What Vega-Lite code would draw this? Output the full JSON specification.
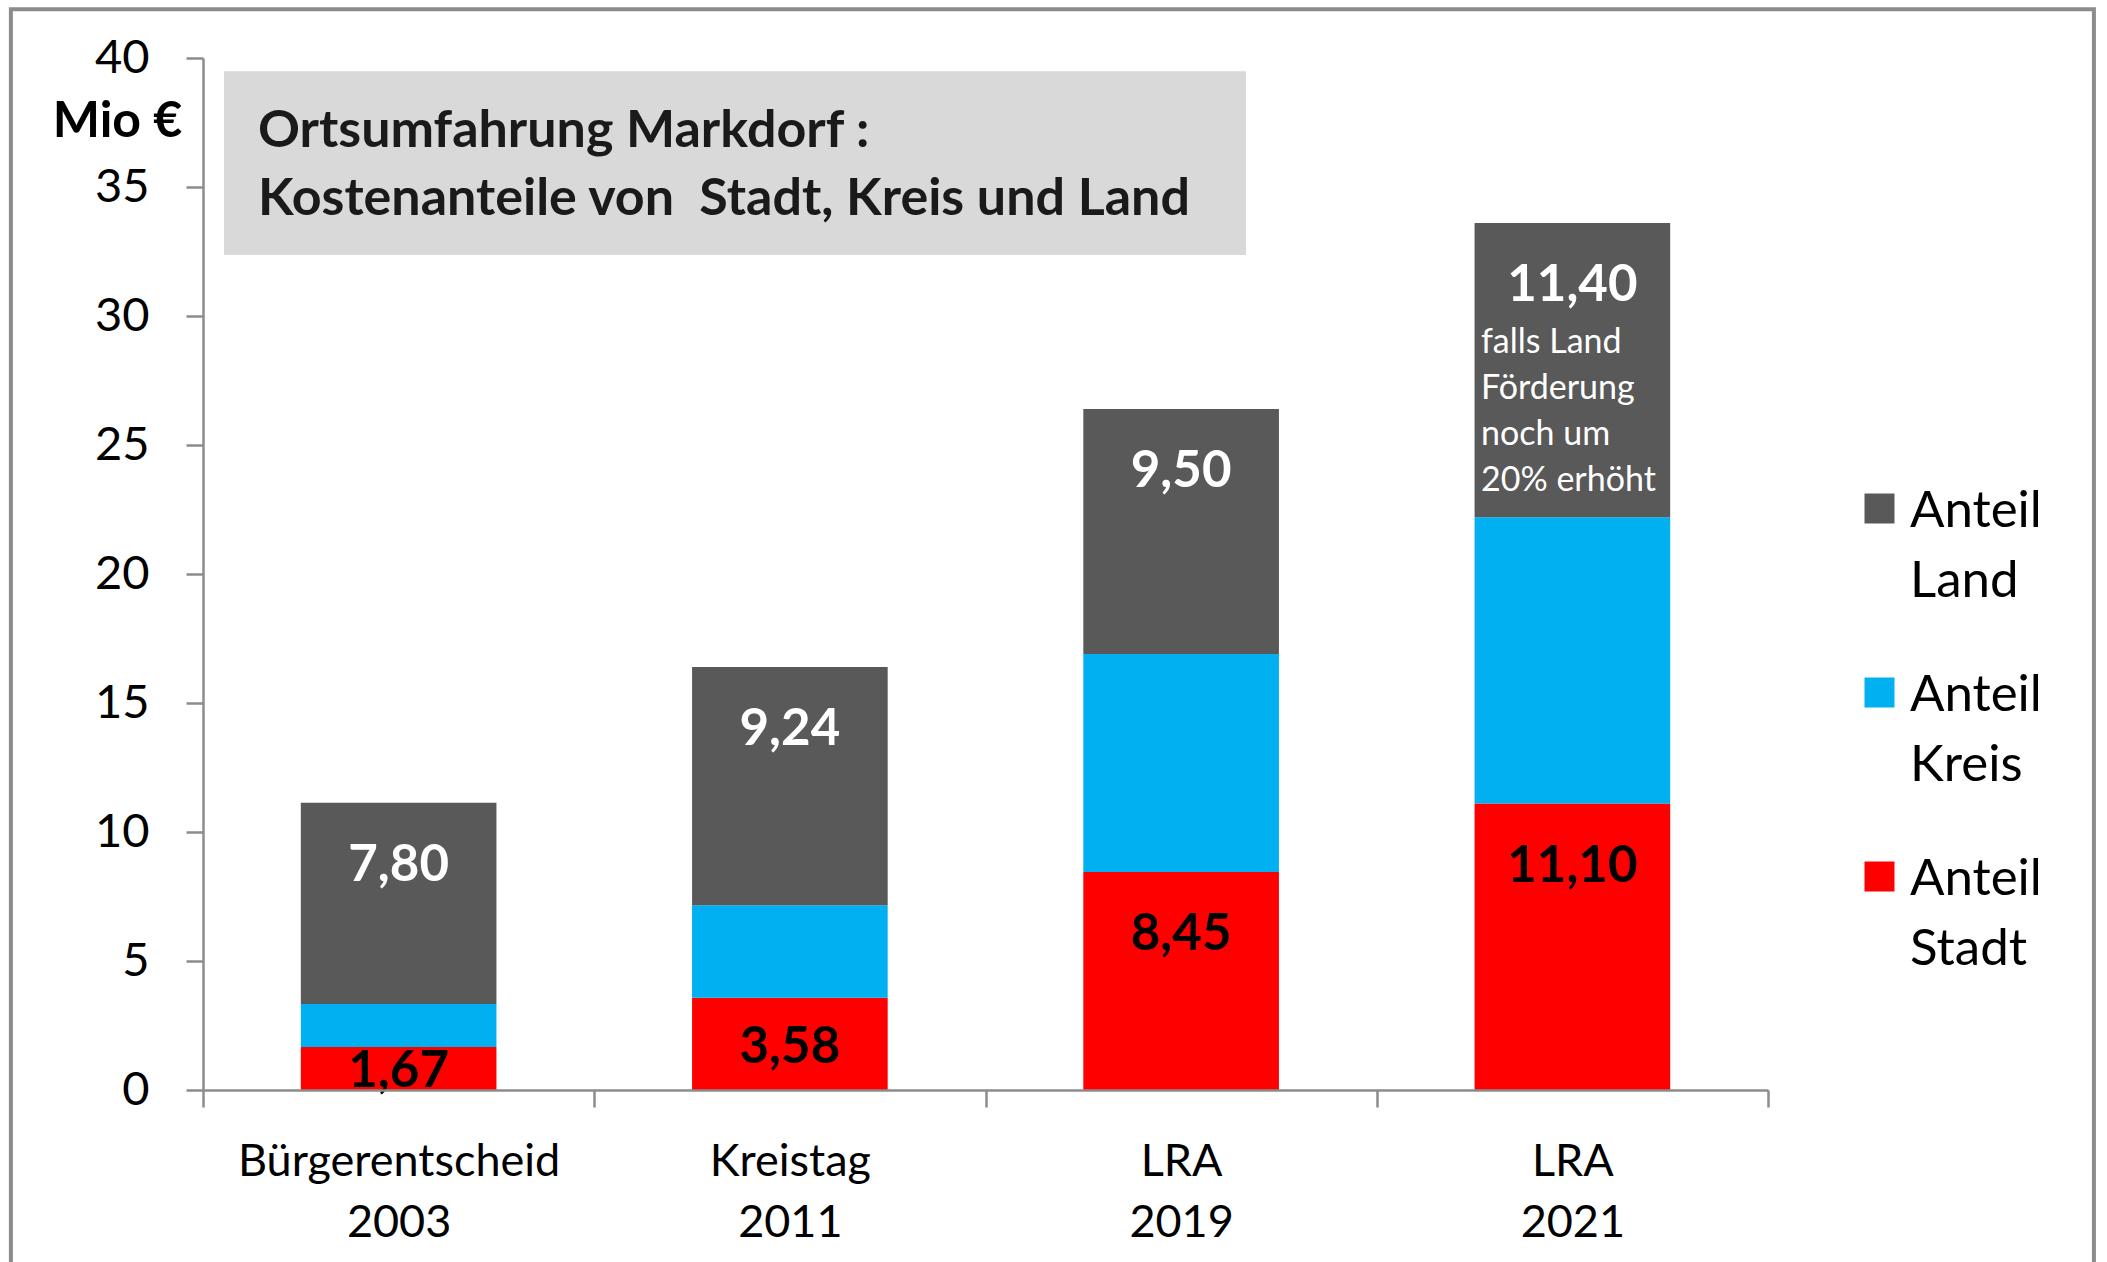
{
  "$schema": "https://vega.github.io/schema/vega-lite/v6.json",
  "width": 1565,
  "height": 1032,
  "autosize": {"type": "none"},
  "padding": {"left": 203, "top": 58, "right": 339, "bottom": 172},
  "background": "white",
  "config": {
    "view": {"stroke": null},
    "axisY": {"gridColor": "#8c8c8c", "gridWidth": 2.5, "domainColor": "#8c8c8c", "domainWidth": 2.5, "tickColor": "#8c8c8c", "tickWidth": 2.5, "tickSize": 17, "labelFont": "Lato", "labelFontSize": 47, "labelColor": "#000000", "labelPadding": 37, "titleAngle": 0, "titleX": -86, "titleY": 63, "titleAlign": "center", "titleBaseline": "middle", "titleFont": "Lato", "titleFontSize": 50, "titleFontWeight": "bold", "titleColor": "#000000"},
    "axisX": {"grid": false, "domainColor": "#8c8c8c", "domainWidth": 2.5, "tickColor": "#8c8c8c", "tickWidth": 2.5, "tickSize": 17, "tickBand": "extent", "labelFont": "Lato", "labelFontSize": 45, "labelColor": "#000000", "labelPadding": 32, "labelBaseline": "top", "labelLineHeight": 61, "labelAngle": 0, "labelLimit": 600, "labelExpr": "split(datum.label, ' ')"}
  },
  "layer": [
    {
      "data": {"values": [{}]},
      "mark": {"type": "rect", "fill": "transparent", "stroke": "#8c8c8c", "strokeWidth": 4},
      "encoding": {
        "x": {"datum": "Bürgerentscheid 2003", "type": "nominal", "bandPosition": -0.491, "title": null},
        "x2": {"datum": "LRA 2021", "bandPosition": 1.833},
        "y": {"datum": 41.89, "type": "quantitative", "title": "Mio €"},
        "y2": {"datum": -8}
      }
    },
    {
      "data": {"values": [{}]},
      "mark": {"type": "rect", "fill": "#d9d9d9"},
      "encoding": {
        "x": {"datum": "Bürgerentscheid 2003", "type": "nominal", "bandPosition": 0.0537, "title": null},
        "x2": {"datum": "LRA 2019", "bandPosition": 0.666},
        "y": {"datum": 39.49, "type": "quantitative", "title": "Mio €"},
        "y2": {"datum": 32.36}
      }
    },
    {
      "data": {"values": [{}]},
      "mark": {"type": "text", "align": "left", "baseline": "middle", "font": "Lato", "fontSize": 52, "fontWeight": "bold", "lineHeight": 68, "color": "#1a1a1a"},
      "encoding": {
        "x": {"datum": "Bürgerentscheid 2003", "type": "nominal", "bandPosition": 0.1406, "title": null},
        "y": {"datum": 37.16, "type": "quantitative", "title": "Mio €"},
        "text": {"value": ["Ortsumfahrung Markdorf :", "Kostenanteile von\u00a0 Stadt, Kreis und Land"]}
      }
    },
    {
      "data": {
        "values": [
          {"kat": "Bürgerentscheid 2003", "serie": "Anteil Stadt", "wert": 1.67},
          {"kat": "Bürgerentscheid 2003", "serie": "Anteil Kreis", "wert": 1.66},
          {"kat": "Bürgerentscheid 2003", "serie": "Anteil Land", "wert": 7.80},
          {"kat": "Kreistag 2011", "serie": "Anteil Stadt", "wert": 3.58},
          {"kat": "Kreistag 2011", "serie": "Anteil Kreis", "wert": 3.58},
          {"kat": "Kreistag 2011", "serie": "Anteil Land", "wert": 9.24},
          {"kat": "LRA 2019", "serie": "Anteil Stadt", "wert": 8.45},
          {"kat": "LRA 2019", "serie": "Anteil Kreis", "wert": 8.45},
          {"kat": "LRA 2019", "serie": "Anteil Land", "wert": 9.50},
          {"kat": "LRA 2021", "serie": "Anteil Stadt", "wert": 11.10},
          {"kat": "LRA 2021", "serie": "Anteil Kreis", "wert": 11.10},
          {"kat": "LRA 2021", "serie": "Anteil Land", "wert": 11.40, "hinweis": "falls Land\nFörderung\nnoch um\n20% erhöht"}
        ]
      },
      "transform": [
        {"calculate": "indexof(['Anteil Stadt','Anteil Kreis','Anteil Land'], datum.serie)", "as": "ord"},
        {"stack": "wert", "groupby": ["kat"], "sort": [{"field": "ord", "order": "ascending"}], "as": ["y0", "y1"]},
        {"calculate": "replace(format(datum.wert, '.2f'), '.', ',')", "as": "etikett"},
        {"calculate": "max(datum.y1 - 2.3, (datum.y0 + datum.y1) / 2)", "as": "etikettY"}
      ],
      "layer": [
        {
          "mark": {"type": "bar", "width": {"band": 0.5}},
          "encoding": {
            "x": {"field": "kat", "type": "nominal", "title": null, "sort": null,
                  "scale": {"domain": ["Bürgerentscheid 2003", "Kreistag 2011", "LRA 2019", "LRA 2021"], "paddingInner": 0, "paddingOuter": 0}},
            "y": {"field": "y1", "type": "quantitative", "title": "Mio €",
                  "scale": {"domain": [0, 40], "nice": false, "zero": true},
                  "axis": {"values": [0, 5, 10, 15, 20, 25, 30, 35, 40]}},
            "y2": {"field": "y0"},
            "color": {"field": "serie", "type": "nominal",
                      "scale": {"domain": ["Anteil Land", "Anteil Kreis", "Anteil Stadt"], "range": ["#595959", "#00b0f0", "#ff0000"]},
                      "legend": {"orient": "none", "legendX": 1651, "legendY": 425, "title": null, "symbolType": "square", "symbolSize": 900, "symbolStrokeWidth": 0, "symbolOpacity": 1, "labelFont": "Lato", "labelFontSize": 51, "labelOffset": 5, "labelBaseline": "alphabetic", "rowPadding": 60, "padding": 0, "labelLimit": 400, "labelColor": "#000000", "labelExpr": "split(datum.label, ' ')",
                                 "encode": {"labels": {"update": {"dy": {"value": 18}, "lineHeight": {"value": 70}}}}}}
          }
        },
        {
          "transform": [{"filter": "datum.serie !== 'Anteil Kreis'"}],
          "mark": {"type": "text", "font": "Lato", "fontSize": 51, "fontWeight": "bold", "baseline": "middle", "align": "center", "dy": 4},
          "encoding": {
            "x": {"field": "kat", "type": "nominal", "title": null},
            "y": {"field": "etikettY", "type": "quantitative", "title": "Mio €"},
            "text": {"field": "etikett"},
            "color": {"condition": {"test": "datum.serie === 'Anteil Land'", "value": "#ffffff"}, "value": "#000000"}
          }
        },
        {
          "transform": [{"filter": "isValid(datum.hinweis)"}, {"calculate": "datum.y1 - 4.65", "as": "hinweisY"}],
          "mark": {"type": "text", "align": "left", "baseline": "middle", "font": "Lato", "fontSize": 34, "lineHeight": 46, "lineBreak": "\n", "color": "#ffffff"},
          "encoding": {
            "x": {"field": "kat", "type": "nominal", "bandPosition": 0.2665, "title": null},
            "y": {"field": "hinweisY", "type": "quantitative", "title": "Mio €"},
            "text": {"field": "hinweis"}
          }
        }
      ]
    }
  ]
}
